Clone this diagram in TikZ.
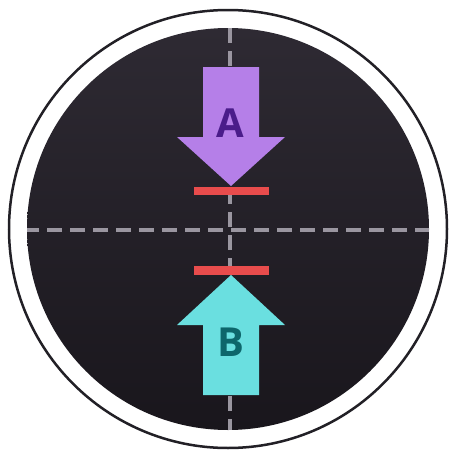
\documentclass[tikz,border=0pt]{standalone}
\usepackage{fontspec}
\setmainfont{Open Sans}
\definecolor{discA}{HTML}{19161C}
\definecolor{discB}{HTML}{2E2A33}
\definecolor{ringc}{HTML}{222026}
\definecolor{dashc}{HTML}{9A96A0}
\definecolor{purp}{HTML}{B57FE8}
\definecolor{purpT}{HTML}{4A1C8A}
\definecolor{teal}{HTML}{6ADFE0}
\definecolor{tealT}{HTML}{0D666B}
\definecolor{redc}{HTML}{E84C4C}
\begin{document}
\begin{tikzpicture}[x=1pt,y=-1pt,
  guide/.style={dashc,line width=3.5pt,dash pattern=on 15pt off 8pt},
  bar/.style={fill=redc,draw=none},
  letter/.style={font=\bfseries\fontsize{40}{40}\selectfont,inner sep=0pt}]
\useasboundingbox (0,0) rectangle (448,450);
\fill[white] (0,0) rectangle (448,450);
\coordinate (c) at (228,229);
\draw[ringc,line width=2.5pt] (c) circle[radius=219];
\shade[shading=axis,shading angle=225,top color=discB,bottom color=discA] (c) circle[radius=201];
\begin{scope}
\clip (c) circle[radius=201];
\coordinate (vt) at (230,28);
\coordinate (vb) at (230,432);
\coordinate (hl) at (24,230);
\coordinate (hr) at (430,230);
\draw[guide] (vt) -- (vb);
\draw[guide] (hl) -- (hr);
\end{scope}
\fill[purp] (203,67) -- (259,67) -- (259,137) -- (285,137) -- (231,186) -- (177,137) -- (203,137) -- cycle;
\fill[teal] (203,395) -- (259,395) -- (259,325) -- (285,325) -- (231,275) -- (177,325) -- (203,325) -- cycle;
\fill[bar] (194,187) rectangle (269,195);
\fill[bar] (194,266) rectangle (269,275);
\node[letter,text=purpT] (A) at (230,123) {A};
\node[letter,text=tealT] (B) at (231,342) {B};
\end{tikzpicture}
\end{document}
